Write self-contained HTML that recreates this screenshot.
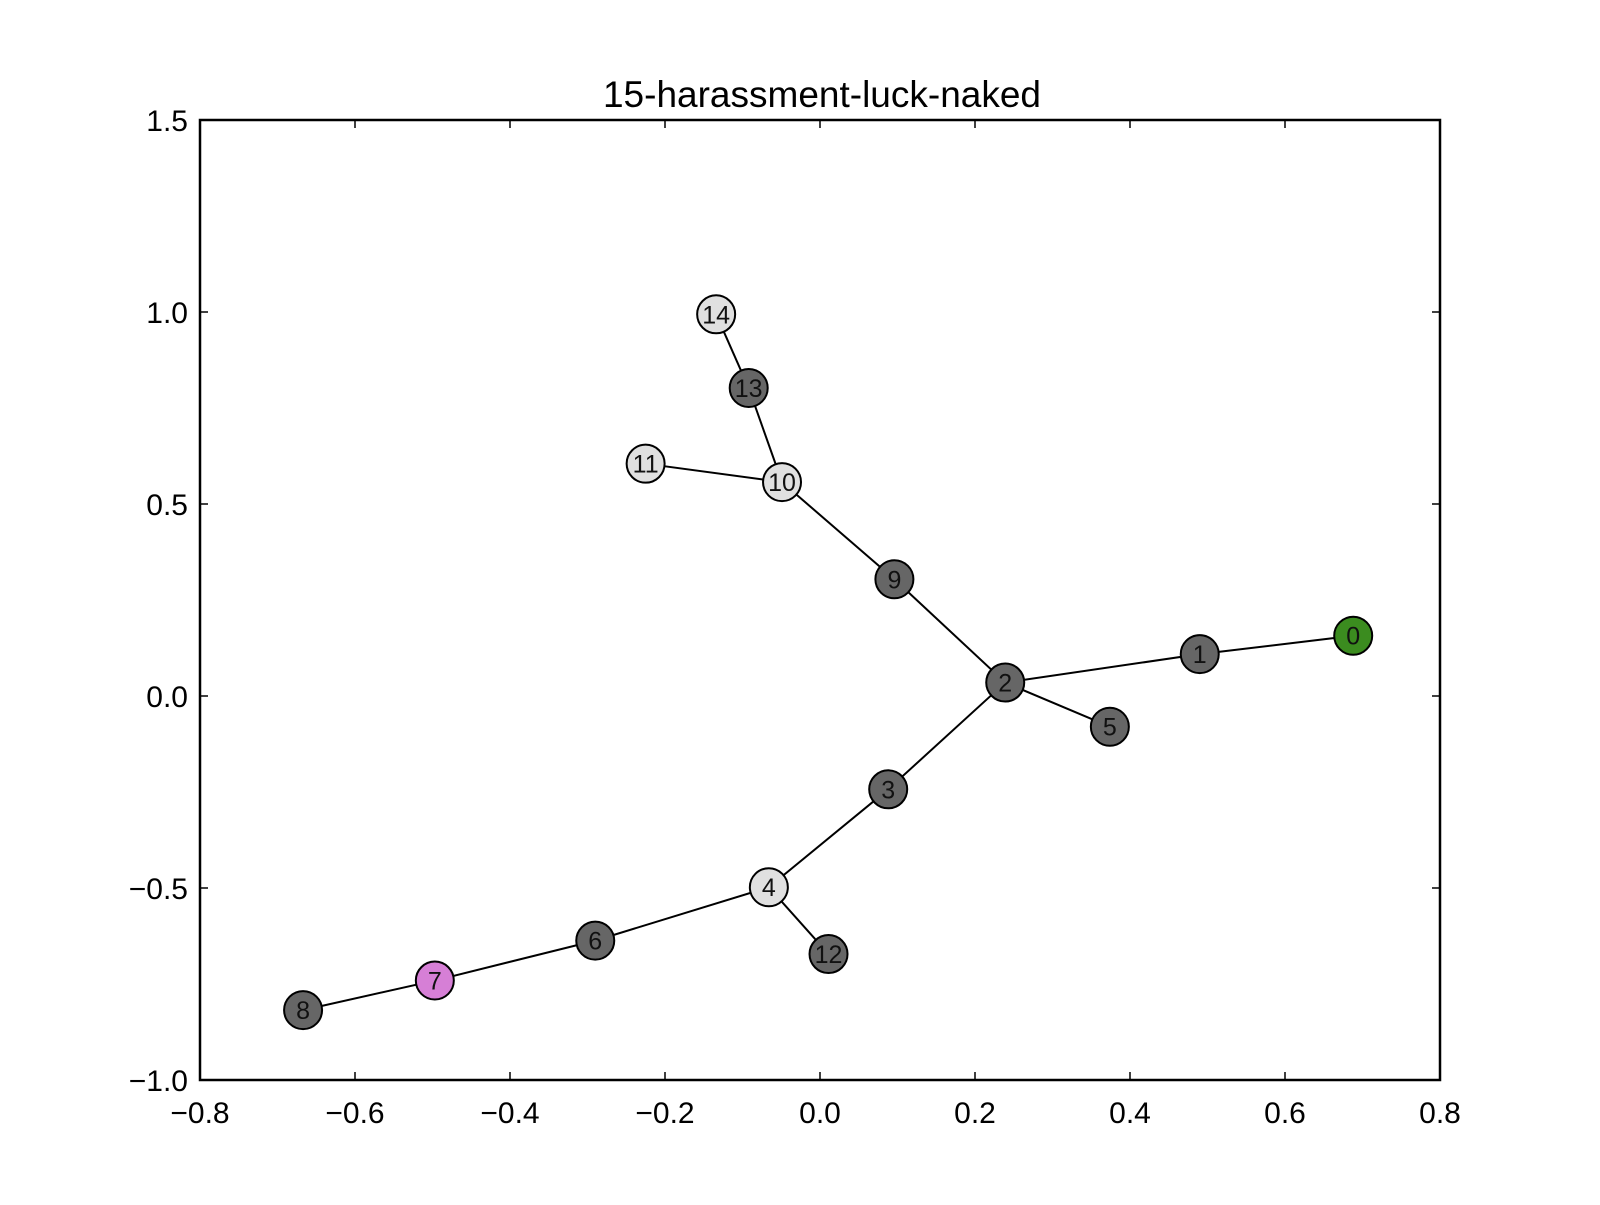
<!DOCTYPE html>
<html><head><meta charset="utf-8"><style>
body{margin:0;background:#fff}
text{font-family:"Liberation Sans",sans-serif}
</style></head><body>
<svg id="chart" width="1600" height="1200" xmlns="http://www.w3.org/2000/svg">
<rect width="1600" height="1200" fill="#fff"/>
<text x="822" y="107" font-size="37" text-anchor="middle">15-harassment-luck-naked</text>
<g id="edges"></g><g id="nodes"></g><g id="axes"></g>
</svg>
<script>
const nodeIds=[0,1,2,3,4,5,6,7,8,9,10,11,12,13,14];
const nodeX=[0.688,0.490,0.239,0.088,-0.066,0.374,-0.290,-0.497,-0.667,0.096,-0.049,-0.225,0.011,-0.092,-0.134];
const nodeY=[0.157,0.109,0.035,-0.243,-0.498,-0.080,-0.637,-0.741,-0.818,0.304,0.557,0.605,-0.672,0.802,0.994];
const nodeColors=["#3b8c1f","#666","#666","#666","#e0e0e0","#666","#666","#d67fd6","#666","#666","#e0e0e0","#e0e0e0","#666","#666","#e0e0e0"];
const edgeFrom=[0,1,2,2,2,3,4,4,6,7,9,10,10,13];
const edgeTo=[1,2,9,5,3,4,12,6,7,8,10,11,13,14];
const xTicks=[-0.8,-0.6,-0.4,-0.2,0.0,0.2,0.4,0.6,0.8];
const xTickLabels=["\u22120.8","\u22120.6","\u22120.4","\u22120.2","0.0","0.2","0.4","0.6","0.8"];
const yTicks=[-1.0,-0.5,0.0,0.5,1.0,1.5];
const yTickLabels=["\u22121.0","\u22120.5","0.0","0.5","1.0","1.5"];
const L=200,R=1440,T=120,B=1080,xmin=-0.8,xmax=0.8,ymin=-1,ymax=1.5;
const sx=v=>L+(v-xmin)/(xmax-xmin)*(R-L);
const sy=v=>B-(v-ymin)/(ymax-ymin)*(B-T);
const NS="http://www.w3.org/2000/svg";
function mk(t,a,p){const e=document.createElementNS(NS,t);for(const k in a)e.setAttribute(k,a[k]);p.appendChild(e);return e;}
const gE=document.getElementById('edges'),gN=document.getElementById('nodes'),gA=document.getElementById('axes');
edgeFrom.forEach((f,i)=>{const t=edgeTo[i];
const l=mk('line',{x1:sx(nodeX[f]),y1:sy(nodeY[f]),x2:sx(nodeX[t]),y2:sy(nodeY[t]),stroke:'#000','stroke-width':2},gE);

});
nodeIds.forEach((id,i)=>{const g=mk('g',{},gN);


mk('circle',{cx:sx(nodeX[i]),cy:sy(nodeY[i]),r:19,fill:nodeColors[i],stroke:'#000','stroke-width':2},g);
const t=mk('text',{x:sx(nodeX[i]),y:sy(nodeY[i])+9,'font-size':25,'text-anchor':'middle',fill:'#111'},g);t.textContent=id;});
const fr=mk('rect',{x:L,y:T,width:R-L,height:B-T,fill:'none',stroke:'#000','stroke-width':2.5},gA);


xTicks.forEach((v,i)=>{const x=sx(v);
mk('line',{x1:x,y1:B,x2:x,y2:B-8,stroke:'#000','stroke-width':1.5},gA);
mk('line',{x1:x,y1:T,x2:x,y2:T+8,stroke:'#000','stroke-width':1.5},gA);
const t=mk('text',{x:x,y:B+43,'font-size':30,'text-anchor':'middle'},gA);t.textContent=xTickLabels[i];

});
yTicks.forEach((v,i)=>{const y=sy(v);
mk('line',{x1:L,y1:y,x2:L+8,y2:y,stroke:'#000','stroke-width':1.5},gA);
mk('line',{x1:R,y1:y,x2:R-8,y2:y,stroke:'#000','stroke-width':1.5},gA);
const t=mk('text',{x:L-12,y:y+11,'font-size':30,'text-anchor':'end'},gA);t.textContent=yTickLabels[i];

});
</script>
</body></html>
